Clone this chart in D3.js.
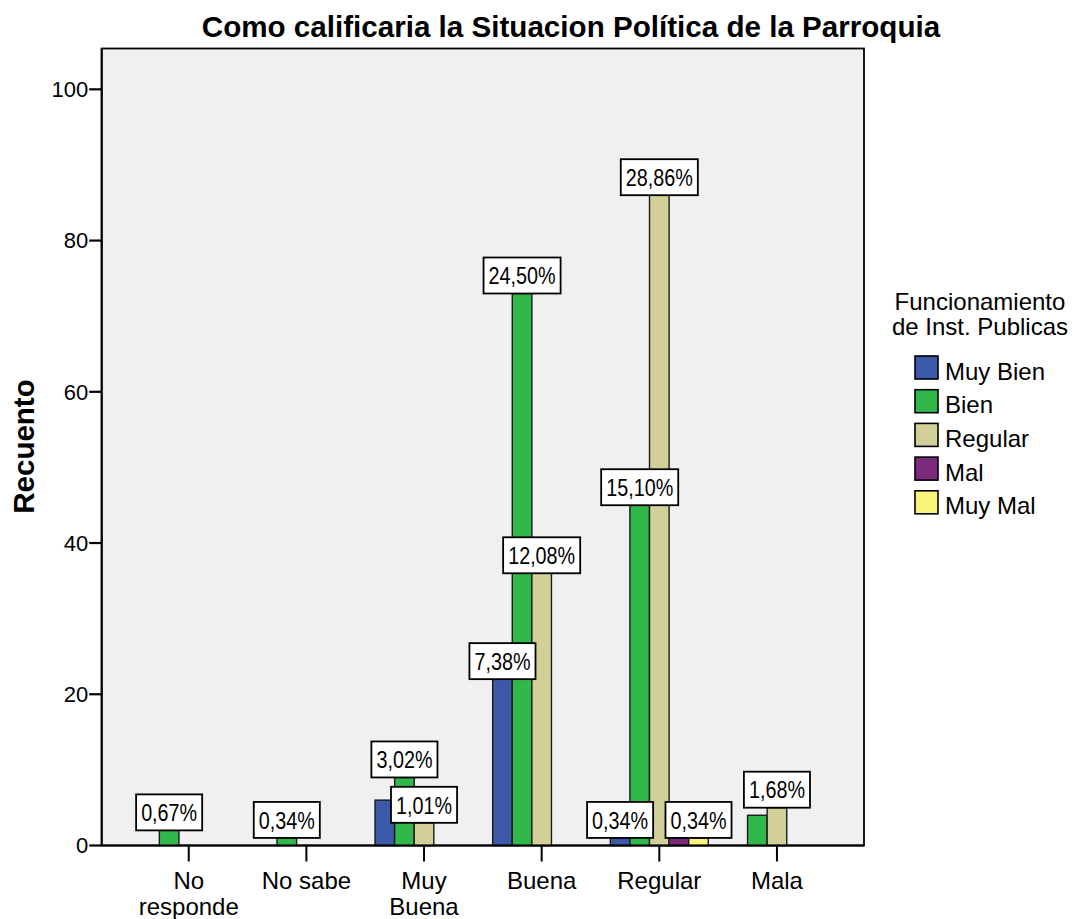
<!DOCTYPE html>
<html>
<head>
<meta charset="utf-8">
<script src="https://cdn.jsdelivr.net/npm/d3@7"></script>
<style>
  html, body { margin: 0; padding: 0; background: #ffffff; }
  svg text { font-family: Arial, "Liberation Sans", sans-serif; fill: #000; }
</style>
</head>
<body>
<svg id="chart" width="1075" height="919"></svg>
<script>
// ---- data ----
const categories = ["No responde", "No sabe", "Muy Buena", "Buena", "Regular", "Mala"];
const categoryLines = [["No", "responde"], ["No sabe"], ["Muy", "Buena"], ["Buena"], ["Regular"], ["Mala"]];
const seriesNames = ["Muy Bien", "Bien", "Regular", "Mal", "Muy Mal"];
const seriesColors = ["#3c58a8", "#30b84a", "#d3cf98", "#7c2a7e", "#f9f57a"];

const muyBien = [0, 0, 6, 22, 1, 0];
const bien    = [2, 1, 9, 73, 45, 4];
const regular = [0, 0, 3, 36, 86, 5];
const mal     = [0, 0, 0, 0, 1, 0];
const muyMal  = [0, 0, 0, 0, 1, 0];

// visible percentage labels (null = not shown)
const muyBienLabels = [null, null, null, "7,38%", "0,34%", null];
const bienLabels    = ["0,67%", "0,34%", "3,02%", "24,50%", "15,10%", null];
const regularLabels = [null, null, "1,01%", "12,08%", "28,86%", "1,68%"];
const malLabels     = [null, null, null, null, null, null];
const muyMalLabels  = [null, null, null, null, "0,34%", null];

const yTicks = [0, 20, 40, 60, 80, 100];

const seriesValues = [muyBien, bien, regular, mal, muyMal];
const seriesLabels = [muyBienLabels, bienLabels, regularLabels, malLabels, muyMalLabels];

// ---- layout ----
const pLeft = 101.7, pRight = 864, pTop = 48.5, pBase = 845.5;
const svg = d3.select("#chart");

const x = d3.scalePoint().domain(categories).range([pLeft, pRight]).padding(0.74);
const inner = d3.scaleBand().domain(seriesNames).range([-49, 49]).padding(0);
const y = d3.scaleLinear().domain([0, 105.4]).range([pBase, pTop]);

// plot background + frame
svg.append("rect")
  .attr("x", pLeft).attr("y", pTop)
  .attr("width", pRight - pLeft).attr("height", pBase - pTop)
  .attr("fill", "#f0f0f0")
  .attr("stroke", "#000").attr("stroke-width", 1.8);

// title
svg.append("text")
  .attr("x", 571).attr("y", 37)
  .attr("text-anchor", "middle")
  .attr("font-size", 29.6).attr("font-weight", "bold")
  .text("Como calificaria la Situacion Política de la Parroquia");

// y axis title
svg.append("text")
  .attr("transform", "translate(33.5,446.5) rotate(-90)")
  .attr("text-anchor", "middle")
  .attr("font-size", 29.5).attr("font-weight", "bold")
  .text("Recuento");

// bars
const barData = [];
seriesNames.forEach((s, si) => {
  categories.forEach((c, ci) => {
    barData.push({ s, si, c, ci, v: seriesValues[si][ci], label: seriesLabels[si][ci] });
  });
});

svg.append("g").selectAll("rect")
  .data(barData.filter(d => d.v > 0))
  .join("rect")
  .attr("x", d => x(d.c) + inner(d.s))
  .attr("y", d => y(d.v))
  .attr("width", inner.bandwidth())
  .attr("height", d => y(0) - y(d.v))
  .attr("fill", d => seriesColors[d.si])
  .attr("stroke", "#1a1a1a").attr("stroke-width", 1.4);

// y axis
const yAxis = svg.append("g");
yAxis.append("line")
  .attr("x1", pLeft).attr("x2", pLeft).attr("y1", pTop).attr("y2", pBase)
  .attr("stroke", "#000").attr("stroke-width", 2);
const yt = yAxis.selectAll("g.tick").data(yTicks).join("g").attr("class", "tick");
yt.append("line")
  .attr("x1", pLeft - 12.5).attr("x2", pLeft)
  .attr("y1", d => y(d)).attr("y2", d => y(d))
  .attr("stroke", "#000").attr("stroke-width", 2.2);
yt.append("text")
  .attr("x", pLeft - 13.5).attr("y", d => y(d))
  .attr("dy", "0.36em")
  .attr("text-anchor", "end")
  .attr("font-size", 22)
  .text(d => d);

// x axis
const xAxis = svg.append("g");
xAxis.append("line")
  .attr("x1", pLeft).attr("x2", pRight).attr("y1", pBase).attr("y2", pBase)
  .attr("stroke", "#000").attr("stroke-width", 2);
const xt = xAxis.selectAll("g.tick").data(categories).join("g").attr("class", "tick");
xt.append("line")
  .attr("x1", d => x(d)).attr("x2", d => x(d))
  .attr("y1", pBase).attr("y2", pBase + 16)
  .attr("stroke", "#000").attr("stroke-width", 2);
xt.each(function(d, i) {
  const t = d3.select(this).append("text")
    .attr("text-anchor", "middle")
    .attr("font-size", 24);
  categoryLines[i].forEach((ln, k) => {
    t.append("tspan").attr("x", x(d)).attr("y", 889 + k * 25.7).text(ln);
  });
});

// labels
const lg = svg.append("g");
barData.filter(d => d.v > 0 && d.label).forEach(d => {
  const cx = x(d.c) + inner(d.s) + inner.bandwidth() / 2;
  const by = y(d.v);
  const g = lg.append("g");
  const r = g.append("rect");
  const t = g.append("text")
    .attr("transform", `translate(${cx},${by - 9.3}) scale(0.86,1)`)
    .attr("text-anchor", "middle")
    .attr("font-size", 23)
    .text(d.label);
  const w = t.node().getComputedTextLength() * 0.86 + 10;
  r.attr("x", cx - w / 2).attr("y", by - 36)
    .attr("width", w).attr("height", 36)
    .attr("fill", "#fff").attr("stroke", "#000").attr("stroke-width", 1.8);
});

// legend
const leg = svg.append("g");
leg.append("text").attr("x", 980).attr("y", 310).attr("text-anchor", "middle")
  .attr("font-size", 24).text("Funcionamiento");
leg.append("text").attr("x", 980).attr("y", 335).attr("text-anchor", "middle")
  .attr("font-size", 24).text("de Inst. Publicas");
seriesNames.forEach((s, i) => {
  const ty = 356 + i * 33.7;
  leg.append("rect").attr("x", 915).attr("y", ty).attr("width", 23).attr("height", 23)
    .attr("fill", seriesColors[i]).attr("stroke", "#000").attr("stroke-width", 1.6);
  leg.append("text").attr("x", 945).attr("y", ty + 23.5)
    .attr("font-size", 24).text(s);
});
</script>
</body>
</html>
